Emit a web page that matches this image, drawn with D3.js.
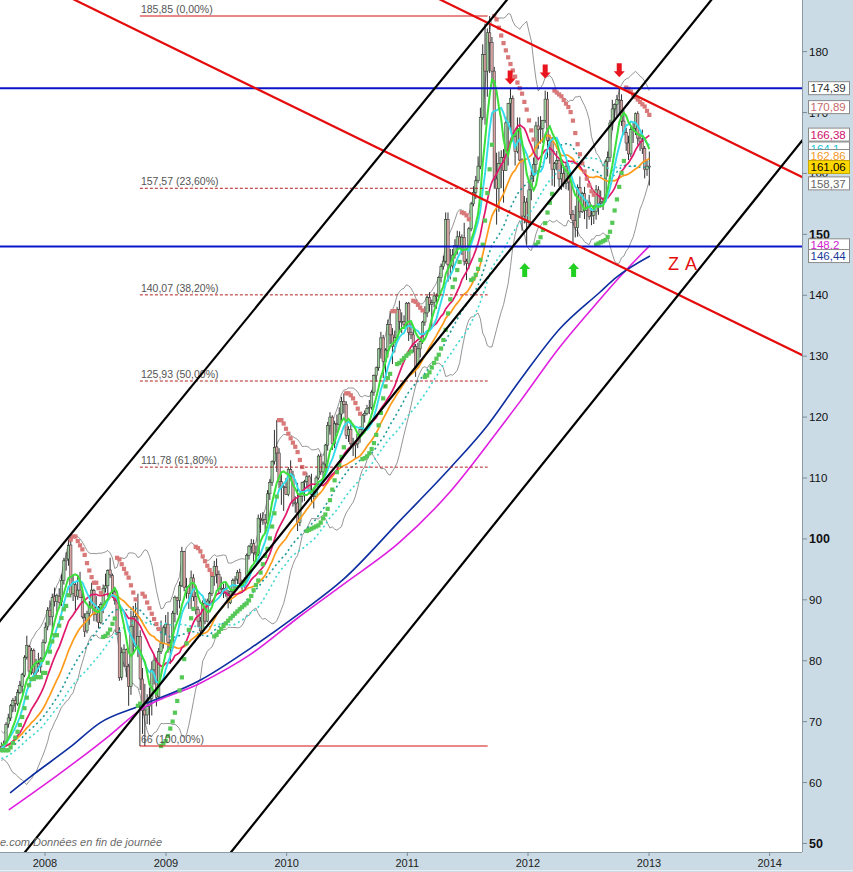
<!DOCTYPE html>
<html><head><meta charset="utf-8">
<script src="https://cdn.jsdelivr.net/npm/d3@7"></script>
<style>
body{margin:0;background:#fff}
svg{display:block}
text{font-family:"Liberation Sans",Arial,sans-serif}
</style>
</head><body>
<svg id="c" width="853" height="872"></svg>
<script>
// ---------------- DATA ----------------
const firstWeekMonday = "2007-08-20";
// weekly closes before the first drawn candle (warm-up for moving averages)
const preCloses = [65.5,63.8,61.8,57.8,58.5,61.3,63.2,66.0,63.0,63.3,64.6,63.5,61.7,61.8,62.8,61.2,57.8,59.3,59.5,56.9,58.6,58.8,60.4,61.8,62.1,61.9,63.3,64.6,62.5,62.0,61.8,63.2,
60.1,61.8,63.5,64.1,65.3,66.0,66.3,68.0,63.8,64.8,64.7,65.7,66.1,66.1,68.4,67.8,66.8,68.1,66.0,65.3,65.4,66.7,64.3,64.7,64.8,64.3,64.8,66.0,67.6,65.7,66.3,66.5,65.9];

const open2007 = [65.9,65.5,66.4,69.6,70.6,72.6,73.5,72.9,74.8,75.8,77.6,80.6,82.3,78.3,81.7,78.0,79.5,79.0,80.3,83.0];
const high2007 = [66.6,66.9,69.9,71.3,72.9,73.9,74.2,75.3,76.7,78.0,80.9,84.1,82.6,82.1,82.0,80.3,81.3,80.6,83.5,86.3];
const low2007  = [65.3,65.3,66.2,69.0,70.1,71.6,71.6,72.6,74.5,74.6,77.3,80.2,77.0,77.7,77.3,77.3,78.2,78.0,80.2,82.8];
const close2007= [65.5,66.3,69.5,70.6,72.6,73.5,73.0,74.8,75.9,77.7,80.5,82.5,78.3,81.7,78.0,79.5,79.0,80.3,83.0,85.5];

const open2008 = [85.6,88.3,87.2,90.5,89.7,90.6,89.6,93.2,96.4,96.7,99.0,91.0,92.5,90.6,91.6,90.4,87.1,84.9,87.8,88.8,91.5,87.6,88.7,86.3,89.2,91.9,92.3,94.9,94.0,91.3,89.9,84.6,77.3,81.3,81.8,79.1,75.8,85.6,87.3,82.4,84.0,77.0,71.9,71.1,72.5,73.8,78.5,80.1,74.1,81.5,82.8,85.4];
const high2008 = [88.8,89.9,91.0,92.0,91.0,91.9,94.2,96.9,97.8,99.9,100.4,94.0,93.0,93.9,94.6,91.5,87.8,88.2,89.8,92.8,91.8,90.6,89.0,89.6,92.5,94.3,95.0,96.9,94.3,92.1,90.5,85.5,82.2,82.7,82.0,79.5,88.2,89.0,89.5,91.0,85.0,78.8,76.2,74.5,75.6,79.9,81.0,80.5,82.1,86.6,85.8,87.5];
const low2008  = [85.0,85.8,84.2,88.9,87.6,89.0,89.0,92.5,94.8,95.6,90.4,89.8,87.9,90.0,90.3,86.9,83.9,84.5,85.9,88.6,86.5,86.4,85.3,86.0,87.8,91.2,90.5,93.6,90.3,89.2,84.2,76.7,76.8,79.0,77.3,72.6,74.4,81.4,81.6,80.6,75.2,68.0,66.0,69.6,69.5,71.0,76.1,72.5,73.7,81.1,82.0,84.3];
const close2008= [88.3,87.3,90.4,89.7,90.7,89.6,93.2,96.4,96.7,98.9,90.9,92.6,90.6,91.6,90.4,87.2,84.8,87.8,88.8,91.6,87.6,88.7,86.3,89.2,91.9,92.3,94.8,94.1,91.3,89.9,84.6,77.2,81.3,81.9,79.1,75.8,85.6,87.3,82.3,84.0,77.0,71.8,71.1,72.5,73.8,78.5,80.1,74.0,81.5,82.8,85.4,86.0];

const open2009 = [86.0,83.0,82.1,87.8,90.3,89.9,92.3,97.9,92.0,92.2,91.0,93.6,90.5,88.4,86.5,84.9,89.4,86.5,89.8,91.0,93.8,95.5,94.2,91.9,91.9,91.8,91.0,89.5,91.4,93.2,93.4,94.5,92.7,92.3,93.1,97.3,98.8,99.2,97.7,97.5,103.4,103.2,103.2,102.6,107.4,109.3,112.7,115.1,114.1,109.4,108.6,108.4];
const high2009 = [88.0,83.5,88.2,90.7,90.5,93.0,98.7,98.0,93.6,92.4,94.8,94.2,91.3,88.9,87.2,89.9,90.2,90.2,91.3,93.9,96.4,96.8,94.8,93.8,92.6,93.0,91.6,91.8,93.5,93.9,94.9,95.1,93.3,93.7,97.6,99.0,100.0,99.9,98.9,104.0,104.2,104.4,104.1,108.0,109.8,112.9,117.9,119.5,114.9,110.6,108.9,110.0];
const low2009  = [81.3,79.5,81.9,86.3,87.5,88.6,92.1,91.4,90.2,88.5,88.5,89.8,87.6,85.5,84.0,84.5,86.0,86.3,89.0,90.6,92.3,92.7,91.0,91.0,90.3,90.5,88.6,89.3,91.0,91.4,92.6,92.3,91.1,92.0,92.7,96.6,97.6,96.3,96.2,97.2,101.0,102.3,100.9,102.2,106.4,108.7,112.2,111.0,108.3,105.6,104.6,107.2];
const close2009= [83.0,82.1,87.8,90.4,89.9,92.3,97.9,92.0,92.2,91.0,93.6,90.5,88.4,86.5,84.9,89.4,86.5,89.8,91.0,93.8,95.5,94.2,91.9,91.9,91.8,91.0,89.5,91.4,93.2,93.4,94.5,92.7,92.3,93.1,97.3,98.8,99.2,97.7,97.5,103.4,103.2,103.2,102.6,107.4,109.3,112.7,115.0,114.1,109.4,108.6,108.4,107.3];

const open2010 = [107.3,111.4,110.5,105.9,105.9,102.7,107.0,109.3,109.4,110.2,108.0,107.3,107.0,110.0,113.6,111.0,112.3,115.4,118.6,120.0,115.7,118.9,118.8,120.5,122.6,122.1,117.0,118.0,115.6,115.4,115.6,117.1,118.0,120.3,120.6,121.4,121.6,124.1,126.8,128.1,131.2,133.0,129.1,131.0,135.2,133.5,131.6,133.1,137.7,135.7,135.7,135.2];
const high2010 = [111.8,112.9,111.2,107.0,109.2,107.5,109.4,109.7,110.9,110.5,110.7,108.4,110.4,113.9,114.0,112.7,115.6,119.2,120.8,120.3,119.4,120.4,121.6,123.3,123.9,122.6,118.5,119.5,116.6,116.2,117.4,118.5,120.5,121.1,122.0,122.8,124.4,127.0,128.3,131.3,134.0,133.5,131.3,136.0,137.4,134.6,134.2,138.1,139.1,137.2,136.7,138.9];
const low2010  = [107.0,109.6,105.3,104.3,101.3,102.1,106.0,106.2,108.3,107.4,106.0,105.0,106.8,109.7,110.5,109.8,111.6,114.5,117.1,114.6,114.9,117.4,118.3,119.4,120.6,116.4,115.9,115.0,113.6,113.1,114.9,115.8,117.8,119.1,120.3,120.5,121.2,123.5,125.8,127.6,129.6,126.4,127.1,129.8,132.0,128.7,130.6,132.6,134.2,133.8,134.6,134.8];
const close2010= [111.4,110.5,105.9,105.9,102.7,107.0,109.3,109.4,110.2,108.0,107.3,107.0,110.0,113.6,111.0,112.3,115.4,118.6,120.0,115.7,118.9,118.8,120.5,122.6,122.1,117.0,118.0,115.6,115.4,115.6,117.1,118.0,120.3,120.6,121.4,121.6,124.1,126.8,128.1,131.2,133.0,129.1,131.0,135.2,133.5,131.6,133.1,137.7,135.7,135.7,135.2,138.7];

const open2011 = [138.7,133.9,133.5,131.6,128.2,131.2,132.4,135.6,137.1,139.6,138.5,138.8,139.9,139.9,142.9,144.7,145.6,152.4,145.0,144.8,146.6,148.2,149.6,148.0,149.5,145.6,145.2,150.9,155.0,156.9,158.8,161.2,169.2,179.5,176.8,183.1,181.5,176.8,159.1,157.5,161.6,162.6,160.5,168.3,171.5,172.3,166.1,163.6,167.4,162.2,153.0,155.3];
const high2011 = [138.9,135.5,134.8,132.0,132.2,132.6,135.8,138.2,139.9,140.5,139.3,140.5,140.3,143.1,145.2,146.5,153.6,153.6,147.6,147.6,149.2,150.6,150.5,150.0,151.9,146.0,151.2,155.3,157.9,159.6,162.8,170.8,181.2,184.6,183.8,185.85,182.4,177.5,163.4,163.6,163.8,164.0,169.2,171.6,174.0,172.8,166.7,169.2,169.2,162.5,156.3,156.0];
const low2011  = [132.5,132.8,130.6,126.6,128.0,129.8,132.0,135.0,136.4,137.3,134.8,138.0,137.8,139.6,142.1,144.2,145.2,142.2,142.6,144.2,146.0,146.7,147.6,146.6,144.9,142.5,144.3,150.5,154.6,155.8,158.4,160.7,168.8,168.0,172.6,176.5,174.8,157.5,151.6,153.7,157.6,155.2,160.4,161.3,167.2,165.3,161.3,163.3,162.0,150.6,151.8,148.3];
const close2011= [133.9,133.5,131.6,128.2,131.2,132.4,135.6,137.1,139.6,138.5,138.8,139.9,139.9,142.9,144.7,145.6,152.4,145.0,144.8,146.6,148.2,149.6,148.0,149.5,145.6,145.2,150.9,155.0,156.9,158.8,161.2,169.2,179.5,176.8,183.1,181.5,176.8,159.1,157.5,161.6,162.6,160.5,168.3,171.5,172.3,166.1,163.6,167.4,162.2,153.0,155.3,152.0];

const open2012 = [152.0,157.3,159.6,161.5,167.8,167.2,167.4,168.7,172.2,165.4,165.3,160.7,161.6,162.1,159.1,160.0,158.4,161.2,158.6,153.3,152.3,151.1,157.7,153.7,156.7,153.9,155.3,152.9,153.1,153.7,157.3,155.1,155.3,155.4,161.9,162.6,168.3,170.6,171.3,172.1,172.0,168.6,166.7,165.0,163.2,167.2,167.4,169.8,165.8,165.3,164.1,160.7,161.2];
const high2012 = [159.0,160.6,162.6,168.5,169.3,169.4,168.8,173.6,173.4,166.4,166.0,161.9,163.7,162.5,161.7,160.9,161.9,161.6,158.9,154.0,154.7,158.2,159.5,157.0,157.8,155.7,156.5,154.3,154.8,158.1,157.9,157.2,156.1,162.3,163.6,168.8,172.1,171.5,172.9,174.1,173.0,170.4,167.5,166.2,167.7,168.4,170.0,170.2,166.6,167.2,164.5,162.3,163.6];
const low2012  = [151.5,155.6,158.6,160.0,164.0,164.9,165.0,168.3,162.6,161.6,158.0,157.8,160.5,157.8,157.3,157.7,157.4,157.2,152.5,148.3,149.5,149.6,152.7,153.5,152.5,150.9,152.4,151.5,151.7,152.4,153.2,154.4,154.0,155.2,159.5,161.9,167.1,169.0,169.2,169.6,167.8,166.3,163.7,162.2,162.7,165.0,166.3,164.7,163.7,163.2,159.2,159.6,158.0];
const close2012= [157.3,159.6,161.5,167.8,167.2,167.4,168.7,172.2,165.4,165.3,160.7,161.6,162.1,159.1,160.0,158.4,161.2,158.6,153.3,152.3,151.1,157.7,153.7,156.7,153.9,155.3,152.9,153.1,153.7,157.3,155.1,155.3,155.4,161.9,162.6,168.3,170.6,171.3,172.1,172.0,168.6,166.7,165.0,163.2,167.2,167.4,169.8,165.8,165.3,164.1,160.7,161.2,161.06];

// long moving averages (decimal year, value)
const blueYears = [2007.71,2007.876,2008.207,2008.455,2008.786,2009.283,2009.697,2010.11,2010.467,2010.939,2011.353,2011.659,2011.932,2012.263,2012.594,2012.735,2013.008];
const blueVals  = [58.3,60.9,65.8,69.8,72.6,76.8,82.0,87.8,93.3,103.0,111.6,118.5,126.0,134.5,140.5,143.0,146.44];
const magYears  = [2007.70,2008.124,2008.538,2008.786,2009.283,2009.697,2010.11,2010.467,2010.939,2011.353,2011.742,2011.932,2012.263,2012.594,2012.735,2013.008];
const magVals   = [55.5,61.5,67.8,71.9,76.3,81.0,87.3,92.5,99.5,107.7,117.5,122.5,131.5,139.3,142.5,148.2];

// Fibonacci retracement
const fibLow = 66, fibHigh = 185.85;
const fibStart = "2008-10-14", fibEnd = "2011-09-01";
const fibLevels = [0, 23.6, 38.2, 50, 61.8, 100];
const fibLabels = ["185,85 (0,00%)","157,57 (23,60%)","140,07 (38,20%)","125,93 (50,00%)","111,78 (61,80%)","66 (100,00%)"];

// horizontal support / resistance
const hLevels = [174.0, 148.0];
// trend lines: [[year1, price1],[year2, price2]]
const redLines = [[[2008.248,188.47],[2014.267,130.19]], [[2011.280,188.47],[2014.267,159.42]]];
const blackLines = [[[2007.6275,86.52],[2008.5795,109.67]], [[2008.3146,60.42],[2013.1159,178.63]], [[2009.5397,48.60],[2014.2666,165.33]]];

// arrows (date, price of tip)
const downArrows = [["2011-11-08",174.6],["2012-02-22",175.6],["2012-10-03",175.8]];
const upArrows   = [["2011-12-22",145.3],["2012-05-18",145.3]];
const zaLabel = {text:"Z A", year:2013.158, price:144.1};

// last-value boxes
const boxValues = [174.0,170.89,166.38,164.1,162.86,161.06,158.37,148.2,146.44];
const boxLabels = ["174,39","170,89","166,38","164,1","162,86","161,06","158,37","148,2","146,44"];
const boxColors = ["#333333","#c46a6a","#d0106a","#22c4d4","#f39a2a","#000000","#666666","#d020d0","#1a3a9a"];

const yTicks = [50,60,70,80,90,100,110,120,130,140,150,160,170,180];
const yearTicks = [2008,2009,2010,2011,2012,2013,2014];
const footer = "e.com Données en fin de journée";

// ---------------- BUILD ----------------
const opens = [].concat(open2007,open2008,open2009,open2010,open2011,open2012);
const highs = [].concat(high2007,high2008,high2009,high2010,high2011,high2012);
const lows  = [].concat(low2007,low2008,low2009,low2010,low2011,low2012);
const closes= [].concat(close2007,close2008,close2009,close2010,close2011,close2012);

const PR = 802, PB = 852;
const svg = d3.select("#c");
const x = d3.scaleUtc().domain([new Date(Date.UTC(2008,0,1)), new Date(Date.UTC(2013,0,1))]).range([45,649]);
const y = d3.scaleLinear().domain([66,185.85]).range([746,16]);
const yd = v => { const yr=Math.floor(v); const s=Date.UTC(yr,0,1), e=Date.UTC(yr+1,0,1); return new Date(s+(v-yr)*(e-s)); };
const pd = s => new Date(s+"T00:00:00Z");

const t0 = pd(firstWeekMonday).getTime();
const weeks = closes.map((c,i)=>({date:new Date(t0+(i*7+2)*864e5), o:opens[i], h:highs[i], l:lows[i], c}));

const all = preCloses.concat(closes);
const P = preCloses.length;
function sma(n){ return closes.map((c,i)=>{ const j=i+P; if(j<n-1) return null; let s=0; for(let k=j-n+1;k<=j;k++) s+=all[k]; return s/n; }); }
function boll(n,m){ return closes.map((c,i)=>{ const j=i+P; let s=0,s2=0; for(let k=j-n+1;k<=j;k++){s+=all[k]; s2+=all[k]*all[k];} const mu=s/n; const sd=Math.sqrt(Math.max(0,s2/n-mu*mu)); return [mu+m*sd, mu-m*sd]; }); }
function psar(){
  const n=closes.length; let up=true, af=0.02, ep=highs[0], sar=lows[0];
  const out=[{v:sar,up}];
  for(let i=1;i<n;i++){
    let ns = sar + af*(ep-sar);
    if(up){
      ns = Math.min(ns, lows[i-1], i>1?lows[i-2]:lows[i-1]);
      if(lows[i] < ns){ up=false; ns=ep; ep=lows[i]; af=0.02; }
      else if(highs[i] > ep){ ep=highs[i]; af=Math.min(af+0.02,0.2); }
    } else {
      ns = Math.max(ns, highs[i-1], i>1?highs[i-2]:highs[i-1]);
      if(highs[i] > ns){ up=true; ns=ep; ep=highs[i]; af=0.02; }
      else if(lows[i] < ep){ ep=lows[i]; af=Math.min(af+0.02,0.2); }
    }
    sar=ns; out.push({v:sar,up});
  }
  return out;
}

// backgrounds
svg.append("rect").attr("x",0).attr("y",0).attr("width",853).attr("height",872).attr("fill","#ffffff");
svg.append("rect").attr("x",PR).attr("y",0).attr("width",853-PR).attr("height",872).attr("fill","#cbdbe6");
svg.append("rect").attr("x",0).attr("y",PB).attr("width",853).attr("height",872-PB).attr("fill","#cbdbe6");

svg.append("clipPath").attr("id","clip").append("rect").attr("x",0).attr("y",0).attr("width",PR).attr("height",PB);
const g = svg.append("g").attr("clip-path","url(#clip)");

// Bollinger bands
const bb = boll(20,2);
const lineD = (vals, curve) => d3.line().defined(d=>d[1]!=null).x(d=>x(d[0])).y(d=>y(d[1])).curve(curve||d3.curveLinear)(weeks.map((w,i)=>[w.date, vals[i]]));
g.append("path").attr("d",lineD(bb.map(b=>b[0]))).attr("fill","none").attr("stroke","#7a7a7a").attr("stroke-width",0.8);
g.append("path").attr("d",lineD(bb.map(b=>b[1]))).attr("fill","none").attr("stroke","#7a7a7a").attr("stroke-width",0.8);

// candles
const cg = g.append("g");
cg.selectAll("line.w").data(weeks).join("line")
  .attr("x1",d=>x(d.date)).attr("x2",d=>x(d.date))
  .attr("y1",d=>y(d.h)).attr("y2",d=>y(d.l))
  .attr("stroke","#1a1a1a").attr("stroke-width",0.9);
cg.selectAll("rect.b").data(weeks).join("rect")
  .attr("x",d=>x(d.date)-1.2).attr("width",2.4)
  .attr("y",d=>y(Math.max(d.o,d.c))).attr("height",d=>Math.max(1,Math.abs(y(d.o)-y(d.c))))
  .attr("fill",d=>d.c>=d.o?"#9ccf9c":"#d9a3a3").attr("stroke","#2a2a2a").attr("stroke-width",0.5);

// long MAs
const longLine = (yrs, vals) => d3.line().x(d=>x(yd(d[0]))).y(d=>y(d[1])).curve(d3.curveMonotoneX)(yrs.map((v,i)=>[v,vals[i]]));
g.append("path").attr("d",longLine(magYears,magVals)).attr("fill","none").attr("stroke","#e020e0").attr("stroke-width",1.6);
g.append("path").attr("d",longLine(blueYears,blueVals)).attr("fill","none").attr("stroke","#0c2ea0").attr("stroke-width",1.6);

// moving averages
g.append("path").attr("d",lineD(sma(52))).attr("fill","none").attr("stroke","#3ed8d0").attr("stroke-width",1.6).attr("stroke-dasharray","2,3");
g.append("path").attr("d",lineD(sma(40))).attr("fill","none").attr("stroke","#1d9a9a").attr("stroke-width",1.6).attr("stroke-dasharray","2,3");
g.append("path").attr("d",lineD(sma(30))).attr("fill","none").attr("stroke","#ff9a1a").attr("stroke-width",1.7);
g.append("path").attr("d",lineD(sma(20))).attr("fill","none").attr("stroke","#e0186c").attr("stroke-width",1.7);
g.append("path").attr("d",lineD(sma(10))).attr("fill","none").attr("stroke","#33dcea").attr("stroke-width",1.9);
g.append("path").attr("d",lineD(sma(7))).attr("fill","none").attr("stroke","#3be03b").attr("stroke-width",2);

// parabolic SAR
const sar = psar();
g.selectAll("rect.s").data(weeks).join("rect")
  .attr("x",(d,i)=>x(d.date)-2.1).attr("y",(d,i)=>y(sar[i].v)-2.1).attr("width",4.2).attr("height",4.2)
  .attr("fill",(d,i)=>sar[i].up?"#55c855":"#d87878");

// fibonacci
const fx1 = x(pd(fibStart)), fx2 = x(pd(fibEnd));
fibLevels.forEach((p,i)=>{
  const v = fibHigh - (fibHigh-fibLow)*p/100;
  const solid = (p===0 || p===100);
  g.append("line").attr("x1",fx1).attr("x2",fx2).attr("y1",y(v)).attr("y2",y(v))
    .attr("stroke",solid?"#d01010":"#b02020").attr("stroke-width",1)
    .attr("stroke-dasharray",solid?null:"3,2");
  g.append("text").attr("x",fx1+1).attr("y",y(v)-3).attr("font-size",10.5).attr("fill","#555").text(fibLabels[i]);
});
g.append("line").attr("x1",fx1).attr("x2",fx1).attr("y1",y(fibLow)).attr("y2",y(72.6)).attr("stroke","#333").attr("stroke-width",1);

// horizontal lines
hLevels.forEach(v=>{
  g.append("line").attr("x1",0).attr("x2",PR).attr("y1",y(v)).attr("y2",y(v)).attr("stroke","#0a14c8").attr("stroke-width",2);
});

// trend lines, extended over the plot
function trend(l,color){
  const ax=x(yd(l[0][0])), ay=y(l[0][1]), bx=x(yd(l[1][0])), by=y(l[1][1]);
  const s=(by-ay)/(bx-ax);
  g.append("line").attr("x1",-50).attr("y1",ay+(-50-ax)*s).attr("x2",900).attr("y2",ay+(900-ax)*s)
    .attr("stroke",color).attr("stroke-width",2.2);
}
redLines.forEach(l=>trend(l,"#e40c0c"));
blackLines.forEach(l=>trend(l,"#000"));

// arrows
downArrows.forEach(a=>{
  const cx=x(pd(a[0])), ty=y(a[1]);
  g.append("path").attr("d",`M${cx},${ty} L${cx-5.5},${ty-6} L${cx-2.5},${ty-6} L${cx-2.5},${ty-14} L${cx+2.5},${ty-14} L${cx+2.5},${ty-6} L${cx+5.5},${ty-6} Z`).attr("fill","#e8141e");
});
upArrows.forEach(a=>{
  const cx=x(pd(a[0])), ty=y(a[1]);
  g.append("path").attr("d",`M${cx},${ty} L${cx-5.5},${ty+6} L${cx-2.5},${ty+6} L${cx-2.5},${ty+14} L${cx+2.5},${ty+14} L${cx+2.5},${ty+6} L${cx+5.5},${ty+6} Z`).attr("fill","#22d022");
});
g.append("text").attr("x",x(yd(zaLabel.year))).attr("y",y(zaLabel.price)).attr("font-size",18).attr("fill","#e40c0c").attr("letter-spacing",1).text(zaLabel.text);

// footer text
svg.append("text").attr("x",0).attr("y",PB-6).attr("font-size",11).attr("font-style","italic").attr("fill","#6a6a6a").text(footer);

// borders
svg.append("line").attr("x1",PR+0.5).attr("x2",PR+0.5).attr("y1",0).attr("y2",PB).attr("stroke","#8d9ba6");
svg.append("line").attr("x1",0).attr("x2",PR).attr("y1",PB+0.5).attr("y2",PB+0.5).attr("stroke","#8d9ba6");
svg.append("line").attr("x1",0).attr("x2",853).attr("y1",870.5).attr("y2",870.5).attr("stroke","#e8eef2");

// y axis
yTicks.forEach(v=>{
  const bold = (v%50===0);
  svg.append("line").attr("x1",PR).attr("x2",PR+5).attr("y1",y(v)).attr("y2",y(v)).attr("stroke","#7d8b96");
  svg.append("text").attr("x",PR+7).attr("y",y(v)).attr("dy","0.35em")
    .attr("font-size",bold?12.5:11.5).attr("font-weight",bold?"bold":"normal").attr("fill","#111").text(v);
});
// x axis
yearTicks.forEach(yr=>{
  const xx = x(new Date(Date.UTC(yr,0,1)));
  svg.append("line").attr("x1",xx).attr("x2",xx).attr("y1",PB).attr("y2",PB+4).attr("stroke","#7d8b96");
  svg.append("text").attr("x",xx).attr("y",PB+15).attr("text-anchor","middle").attr("font-size",11).attr("fill","#222").text(yr);
});

// value boxes
boxValues.forEach((v,i)=>{
  const cy=y(v);
  const isLast = (i===5);
  svg.append("rect").attr("x",808.5).attr("y",cy-6.5).attr("width",41).attr("height",13)
    .attr("fill",isLast?"#ffd800":"#ffffff").attr("stroke",isLast?"#c8a800":"#8a8a8a").attr("stroke-width",1);
  svg.append("text").attr("x",810.5).attr("y",cy).attr("dy","0.36em").attr("font-size",11.5).attr("fill",boxColors[i]).text(boxLabels[i]);
});
</script>
</body></html>
